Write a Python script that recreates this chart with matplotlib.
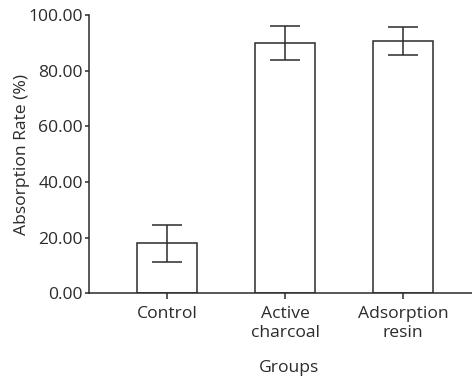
import matplotlib
matplotlib.use("Agg")
import matplotlib.pyplot as plt
import numpy as np

categories = ["Control", "Active\ncharcoal", "Adsorption\nresin"]
values = [18.0, 90.0, 90.6]
errors = [6.6, 6.0, 5.0]
yticks = [0, 20, 40, 60, 80, 100]

plt.rcParams['font.family'] = ['Open Sans', 'DejaVu Sans']
col = '#2b2b2b'
fs = 12.6

fig = plt.figure(figsize=(4.72, 3.82), dpi=100)
ax = fig.add_axes([89/472, 1-293.3/382, 1-89/472, (293.3-15)/382])

x = np.arange(len(categories))
ax.bar(x, values, width=0.51, color='white', edgecolor=col, linewidth=1.1)
ax.errorbar(x, values, yerr=errors, fmt='none', ecolor=col, elinewidth=1.1,
            capsize=10.5, capthick=1.1)

ax.set_xlim(-0.665, 2.585)
ax.set_ylim(0, 100)
ax.set_yticks(yticks)
ax.set_yticklabels([f"{v:.2f}" for v in yticks], fontsize=fs, color=col)
ax.set_xticks(x)
ax.set_xticklabels(categories, fontsize=fs, color=col, linespacing=1.3)

for s in ['top', 'right']:
    ax.spines[s].set_visible(False)
for s in ['left', 'bottom']:
    ax.spines[s].set_color(col)
    ax.spines[s].set_linewidth(1.1)
ax.tick_params(axis='y', length=3, width=1.1, color=col, pad=1.5)
ax.tick_params(axis='x', length=4, width=1.1, color=col, pad=5)

ax.set_ylabel("Absorption Rate (%)", fontsize=fs, color=col)
ax.yaxis.set_label_coords(-(89-21.7)/383, 0.5)
ax.set_xlabel("Groups", fontsize=fs, color=col)
ax.xaxis.set_label_coords((289-89)/383, -(368-293.3)/278.3)
ax.xaxis.label.set_va('center')
ax.yaxis.label.set_va('center')

fig.savefig("out.png", dpi=100)
